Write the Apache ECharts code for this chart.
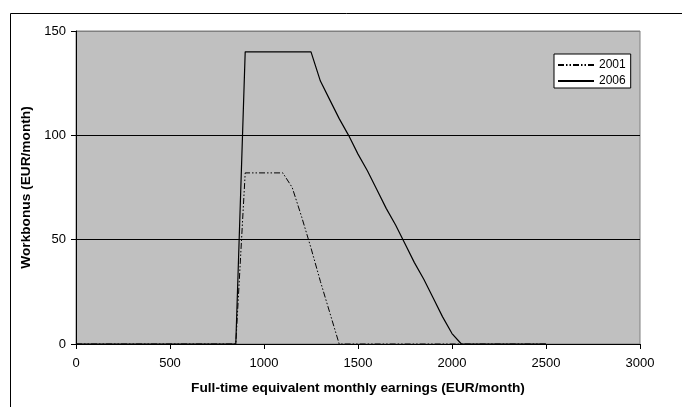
<!DOCTYPE html>
<html>
<head>
<meta charset="utf-8">
<script src="https://cdn.jsdelivr.net/npm/echarts@6/dist/echarts.min.js"></script>
<style>
html,body{margin:0;padding:0;background:#fff;}
#c{width:682px;height:407px;}
</style>
</head>
<body>
<div id="c"></div>
<script>
var seriesNames = ['2001', '2006'];
var x2001 = [0, 850, 900, 1100, 1150, 1200, 1250, 1300, 1350, 1400, 2500];
var y2001 = [0, 0, 82, 82, 75, 61, 46, 30, 15, 0, 0];
var x2006 = [0, 850, 900, 1250, 1300, 1350, 1400, 1450, 1500, 1550, 1600, 1650, 1700, 1750, 1800, 1850, 1900, 1950, 2000, 2050, 2500];
var y2006 = [0, 0, 140, 140, 126, 117, 108, 100, 91, 83, 74, 65, 57, 48, 39, 31, 22, 13, 5, 0, 0];
var xTicks = [0, 500, 1000, 1500, 2000, 2500, 3000];
var yTicks = [0, 50, 100, 150];

function pairs(xs, ys) { return xs.map(function (x, i) { return [x, ys[i]]; }); }

var font = 'Liberation Sans, Arial, sans-serif';
var chart = echarts.init(document.getElementById('c'), null, {renderer: 'canvas'});
chart.setOption({
  animation: false,
  backgroundColor: '#fff',
  textStyle: {fontFamily: font},
  graphic: [{
    type: 'rect', left: 8, top: 11, silent: true,
    shape: {x: 0, y: 0, width: 700, height: 420},
    style: {fill: 'none', stroke: '#000', lineWidth: 1}
  }],
  grid: {
    left: 76, right: 42, top: 31, bottom: 63,
    show: true, backgroundColor: '#c0c0c0', borderColor: '#808080', borderWidth: 1
  },
  legend: {
    orient: 'vertical', left: 554, top: 54,
    backgroundColor: '#fff', borderColor: '#000', borderWidth: 1,
    padding: [5, 5, 1, 3], itemGap: 4, itemWidth: 36, itemHeight: 14,
    itemStyle: {opacity: 0},
    textStyle: {fontFamily: font, fontSize: 12, color: '#000'},
    data: seriesNames
  },
  xAxis: {
    type: 'value', min: xTicks[0], max: xTicks[xTicks.length - 1], interval: 500,
    name: 'Full-time equivalent monthly earnings (EUR/month)',
    nameLocation: 'middle', nameGap: 37,
    nameTextStyle: {fontFamily: font, fontSize: 13.7, fontWeight: 'bold', color: '#000'},
    axisLine: {show: true, lineStyle: {color: '#000', width: 1}},
    axisTick: {show: true, length: 5, lineStyle: {color: '#000'}},
    axisLabel: {fontFamily: font, fontSize: 13, color: '#000', margin: 13,
      formatter: function (v) { return String(v); }},
    splitLine: {show: false}
  },
  yAxis: {
    type: 'value', min: yTicks[0], max: yTicks[yTicks.length - 1], interval: 50,
    name: 'Workbonus (EUR/month)',
    nameLocation: 'middle', nameGap: 38,
    nameTextStyle: {fontFamily: font, fontSize: 13.7, fontWeight: 'bold', color: '#000'},
    axisLine: {show: true, lineStyle: {color: '#000', width: 1}},
    axisTick: {show: true, length: 5, lineStyle: {color: '#000'}},
    axisLabel: {fontFamily: font, fontSize: 13, color: '#000', margin: 10},
    splitLine: {show: true, lineStyle: {color: ['#000', '#000', '#000', '#808080'], width: 1}}
  },
  series: [
    {
      name: seriesNames[0], type: 'line', data: pairs(x2001, y2001),
      showSymbol: false, symbol: 'none', z: 3,
      lineStyle: {color: '#000', width: 1, type: [6, 2, 1.5, 2, 1.5, 2]},
      itemStyle: {color: '#000'}
    },
    {
      name: seriesNames[1], type: 'line', data: pairs(x2006, y2006),
      showSymbol: false, symbol: 'none', z: 2,
      lineStyle: {color: '#000', width: 1.2, type: 'solid'},
      itemStyle: {color: '#000'}
    }
  ]
});
</script>
</body>
</html>
